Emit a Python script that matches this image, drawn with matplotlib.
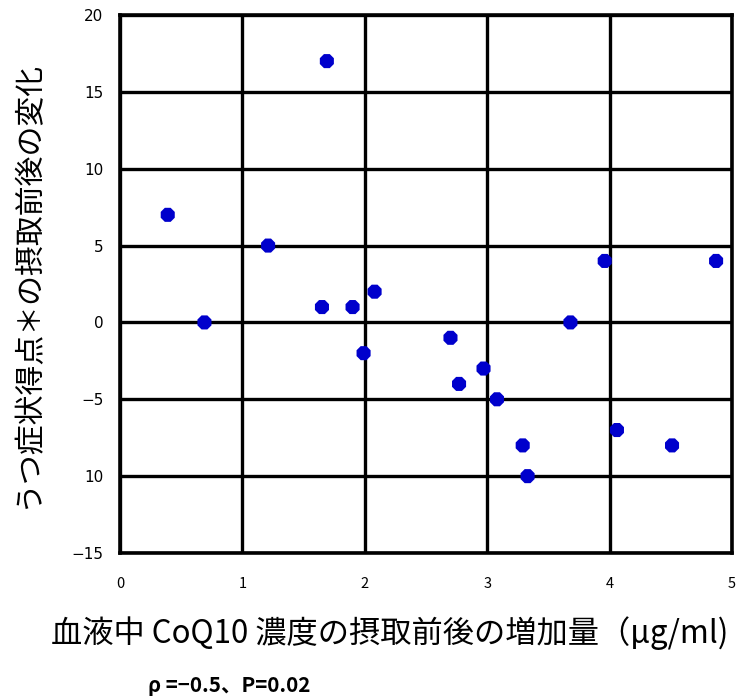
import matplotlib.pyplot as plt
import numpy as np

plt.rcParams['font.family'] = ['Noto Sans CJK JP', 'DejaVu Sans']

# CoQ10 increase (ug/ml) vs change in depression score
coq10_increase = [0.39, 0.69, 1.21, 1.69, 1.65, 1.90, 2.08, 1.99, 2.70, 2.77,
                  2.97, 3.08, 3.29, 3.33, 3.68, 3.96, 4.06, 4.51, 4.87]
score_change = [7, 0, 5, 17, 1, 1, 2, -2, -1, -4,
                -3, -5, -8, -10, 0, 4, -7, -8, 4]

x_ticks = [0, 1, 2, 3, 4, 5]
y_ticks = [20, 15, 10, 5, 0, -5, -10, -15]
y_tick_labels = ['20', '15', '10', '5', '0', '\u22125', '10', '\u221215']

fig = plt.figure(figsize=(7.37, 6.98), dpi=100)
ax = fig.add_axes([120 / 737, 1 - 553 / 698, 612 / 737, 538 / 698])

ax.set_xlim(0, 5)
ax.set_ylim(-15, 20)
ax.set_xticks(x_ticks)
ax.set_yticks(y_ticks)
ax.set_yticklabels(y_tick_labels, fontsize=11, family='DejaVu Sans')
ax.set_xticklabels([str(v) for v in x_ticks], fontsize=10.5)
ax.tick_params(length=0)
ax.tick_params(axis='y', pad=12)
ax.tick_params(axis='x', pad=17)

ax.grid(True, color='black', linewidth=2.4)
ax.set_axisbelow(True)
for s in ax.spines.values():
    s.set_linewidth(2.6)
    s.set_color('black')

ax.scatter(coq10_increase, score_change, s=120, marker='8', color='#0000cc',
           zorder=3, edgecolors='none')

fig.text(390 / 737, 1 - 633 / 698, '血液中 CoQ10 濃度の摂取前後の増加量（μg/ml)',
         ha='center', va='center', fontsize=22.5)
fig.text(28 / 737, 1 - 285 / 698, 'うつ症状得点＊の摂取前後の変化',
         ha='center', va='center', rotation=90, fontsize=21.5)
fig.text(148 / 737, 1 - 686 / 698, 'ρ =−0.5、P=0.02',
         ha='left', va='center', fontsize=14.8, fontweight='bold')

fig.savefig('out.png', dpi=100)
